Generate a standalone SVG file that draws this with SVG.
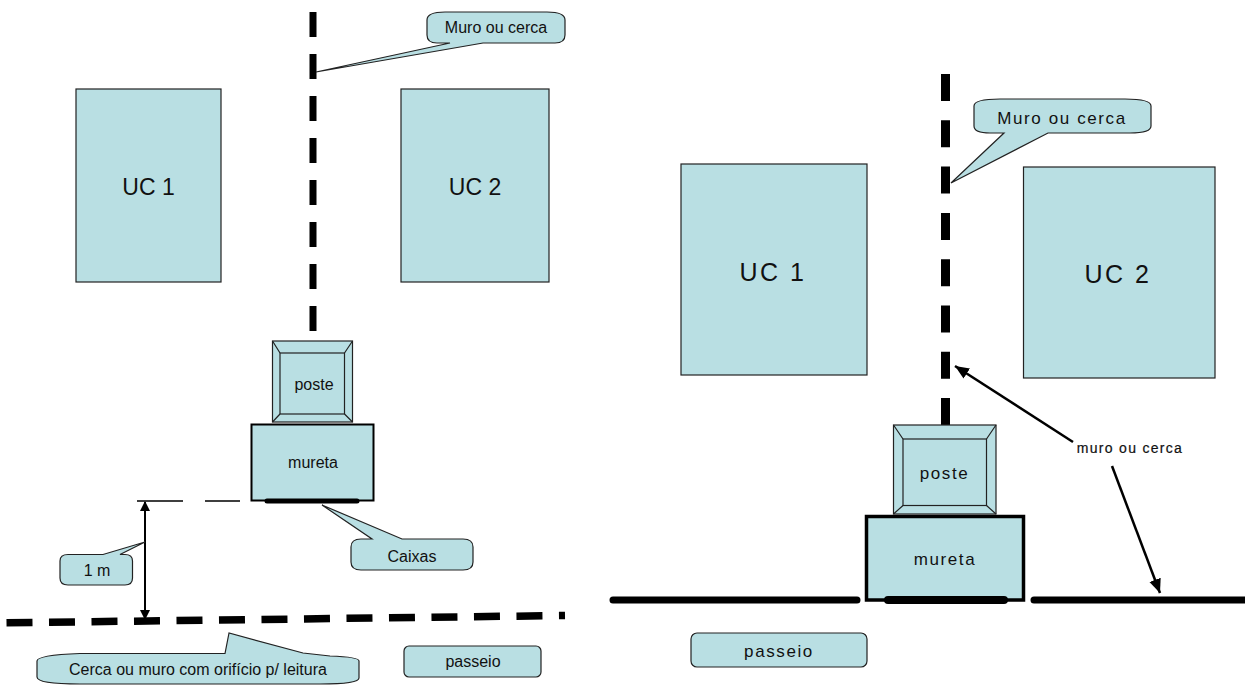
<svg xmlns="http://www.w3.org/2000/svg" width="1245" height="686" viewBox="0 0 1245 686">
<style>
text{font-family:"Liberation Sans",Arial,sans-serif;fill:#111;text-anchor:middle}
.b{fill:#b9dfe3;stroke:#222;stroke-width:1.2}
.n{fill:none;stroke:#222;stroke-width:1.2}
.k{fill:none;stroke:#000}
.s{font-size:16px}
.m{font-size:17px;letter-spacing:1.6px}
</style>
<defs>
<marker id="ah" markerUnits="userSpaceOnUse" markerWidth="16" markerHeight="14" refX="14" refY="6" orient="auto"><path d="M0 0L14 6L0 12Z" fill="#000"/></marker>
<marker id="as" markerUnits="userSpaceOnUse" markerWidth="12" markerHeight="12" refX="9" refY="5" orient="auto-start-reverse"><path d="M0 0L10 5L0 10Z" fill="#000"/></marker>
</defs>
<g id="connectors">
<path class="k" stroke-width="7" stroke-dasharray="25 17" d="M313 12V333"/>
<path class="k" stroke-width="7.5" stroke-dasharray="26 16.5" d="M6.500 622.800L565 615.500"/>
<path class="k" d="M137 501H183M205 501H240" stroke-width="1.300"/>
<path class="k" stroke-width="2" marker-start="url(#as)" marker-end="url(#as)" d="M145 502V619"/>
<path class="k" stroke-width="9" stroke-dasharray="27 19.300" d="M945.500 74V425"/>
<path class="k" stroke-width="7" stroke-linecap="round" d="M613 600H857M1034 600H1245"/>
<path class="k" stroke-width="2.500" marker-end="url(#ah)" d="M1073 442L955 366"/>
<path class="k" stroke-width="2.500" marker-end="url(#ah)" d="M1112 466L1160 593"/>
</g>
<g id="uc1-left"><rect class="b" x="76" y="89" width="145" height="193"/><text x="148.500" y="195" font-size="23">UC 1</text></g>
<g id="uc2-left"><rect class="b" x="401" y="89" width="148" height="193"/><text x="475" y="195" font-size="23">UC 2</text></g>
<g id="muro-left"><path class="b" d="M316 72L450 43H437Q427 43 427 35V20Q427 12 445 12H547Q565 12 565 20V35Q565 43 555 43H483Z"/><text class="s" x="496" y="33">Muro ou cerca</text></g>
<g id="poste-left"><rect class="b" x="272.500" y="341" width="80" height="81"/><rect class="n" x="280" y="353" width="64.500" height="61"/><path class="n" d="M272.500 341L280 353M352.500 341L344.500 353M272.500 422L280 414M352.500 422L344.500 414"/><text class="s" x="314" y="390">poste</text></g>
<g id="mureta-left"><rect x="251.500" y="424.500" width="122" height="76" fill="#b9dfe3" stroke="#000" stroke-width="2"/><text class="s" x="313" y="468">mureta</text><path class="k" stroke-width="5" stroke-linecap="round" d="M267 501H357"/></g>
<g id="caixas"><path class="b" d="M322 505L372 539H361Q351 539 351 547V562Q351 570 361 570H463Q473 570 473 562V547Q473 539 463 539H402Z"/><text class="s" x="412" y="562">Caixas</text></g>
<g id="um-metro"><path class="b" d="M145 542L103 554.500H68Q60 554.500 60 561V578Q60 585 68 585H125Q132.500 585 132.500 578V561Q132.500 554.500 125 554.500H120Z"/><text class="s" x="97" y="576">1 m</text></g>
<g id="cerca-muro"><path class="b" d="M229 633L225 653.500H80Q37 655 37 661V677Q37 684 80 684H320Q359 684 359 678V661Q359 657 330 656L303 653Z"/><text class="s" x="198" y="675">Cerca ou muro com orifício p/ leitura</text></g>
<g id="passeio-left"><rect class="b" x="404" y="646" width="137" height="31" rx="5"/><text class="s" x="473" y="667">passeio</text></g>
<g id="uc1-right"><rect class="b" x="681" y="164" width="186" height="211"/><text x="773" y="281" font-size="25" letter-spacing="2.500">UC 1</text></g>
<g id="uc2-right"><rect class="b" x="1023.500" y="167" width="191.500" height="211"/><text x="1118" y="283" font-size="25" letter-spacing="2.500">UC 2</text></g>
<g id="muro-right"><path class="b" d="M951 183L1004 133H990Q974 133 974 126V106Q974 99 1000 99H1125Q1151 99 1151 106V126Q1151 133 1130 133H1048Z"/><text class="m" x="1062" y="124">Muro ou cerca</text></g>
<g id="poste-right"><rect class="b" x="893.500" y="425" width="102.500" height="89"/><rect class="n" x="903" y="439" width="83.500" height="66.500"/><path class="n" d="M893.500 425L903 439M996 425L986.500 439M893.500 514L903 505.500M996 514L986.500 505.500"/><text class="m" x="944.500" y="479">poste</text></g>
<g id="mureta-right"><rect x="866.500" y="516.500" width="157" height="83.500" fill="#b9dfe3" stroke="#000" stroke-width="3.500"/><text class="m" x="945" y="565">mureta</text><path class="k" stroke-width="8" stroke-linecap="round" d="M888 600H1004"/></g>
<g id="muro-label"><text x="1130" y="453" font-size="14" letter-spacing="1.300" stroke="#111" stroke-width=".2">muro ou cerca</text></g>
<g id="passeio-right"><rect class="b" x="691" y="633" width="176" height="34" rx="6"/><text class="m" x="779" y="657">passeio</text></g>
</svg>
